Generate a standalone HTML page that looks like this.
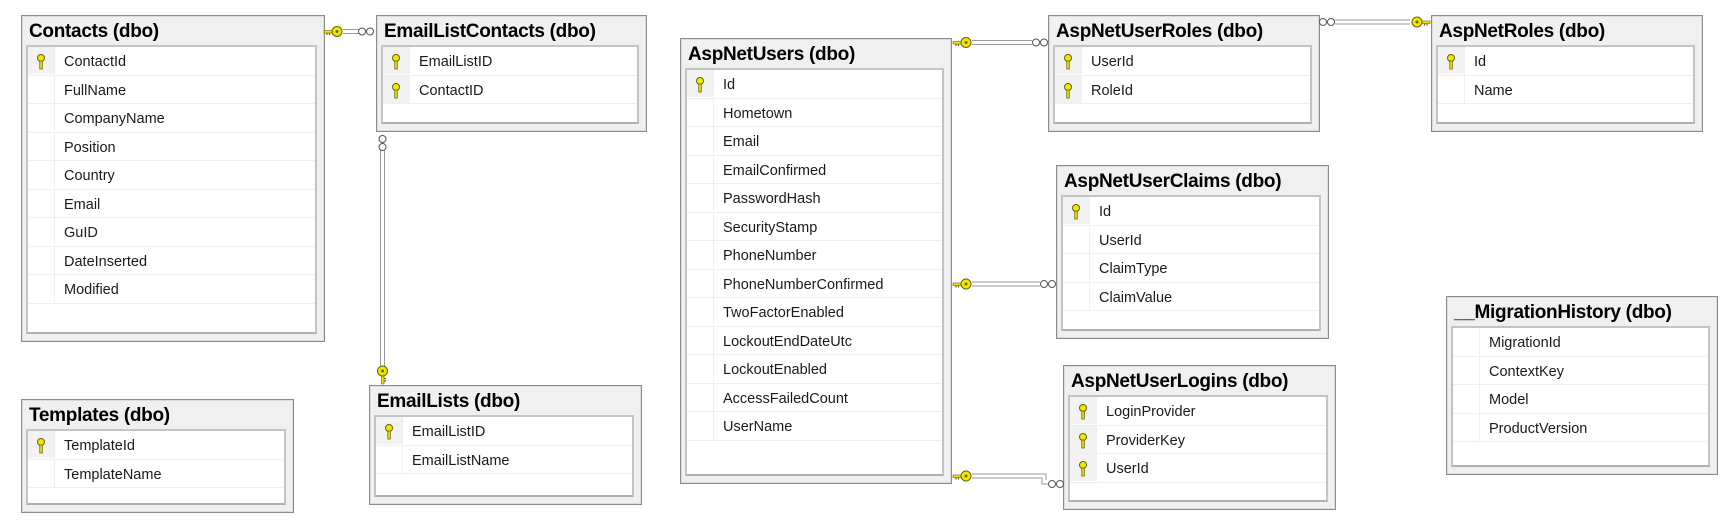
<!DOCTYPE html>
<html><head><meta charset="utf-8"><style>
body{margin:0;width:1735px;height:532px;background:#fff;position:relative;overflow:hidden;font-family:"Liberation Sans",sans-serif;}
.t{position:absolute;background:#f0f0f0;border:1px solid #8c8c8c;box-shadow:inset 0 0 0 1px #dcdcdc;}
.t .h{position:absolute;left:7px;top:3px;font-weight:bold;font-size:19px;line-height:26px;color:#000;letter-spacing:-0.3px;white-space:nowrap}
.t .b{position:absolute;left:4px;right:7px;top:29px;bottom:7px;background:#fff;border:2px solid #c4c4c4;border-bottom-color:#b0b0b0}
.r{height:28.5px;border-bottom:1px solid #efefef;position:relative;box-sizing:border-box}
.r .k{position:absolute;left:0;top:0;width:26px;height:27px;border-right:1px solid #efefef}
.r .k.y{background:#f2f2f2}
.r span{position:absolute;left:36px;top:7px;font-size:14.5px;color:#1a1a1a;white-space:nowrap}
.r .k svg{position:absolute;left:8px;top:7px}
#conn{position:absolute;left:0;top:0;z-index:5}
</style></head><body>

<svg width="0" height="0" style="position:absolute"><defs><g id="rk"><circle cx="5" cy="4" r="3.5" fill="#f3e600" stroke="#6b6200"/><rect x="3.8" y="7" width="2.5" height="8" fill="#f3e600" stroke="#6b6200" stroke-width="0.8"/></g></defs></svg>

<!-- Contacts -->
<div class="t" style="left:21px;top:15px;width:302px;height:325px"><div class="h">Contacts (dbo)</div><div class="b">
<div class="r"><div class="k y"><svg width="10" height="16"><use href="#rk"/></svg></div><span>ContactId</span></div>
<div class="r"><div class="k"></div><span>FullName</span></div>
<div class="r"><div class="k"></div><span>CompanyName</span></div>
<div class="r"><div class="k"></div><span>Position</span></div>
<div class="r"><div class="k"></div><span>Country</span></div>
<div class="r"><div class="k"></div><span>Email</span></div>
<div class="r"><div class="k"></div><span>GuID</span></div>
<div class="r"><div class="k"></div><span>DateInserted</span></div>
<div class="r"><div class="k"></div><span>Modified</span></div>
</div></div>

<!-- EmailListContacts -->
<div class="t" style="left:376px;top:15px;width:269px;height:115px"><div class="h">EmailListContacts (dbo)</div><div class="b">
<div class="r"><div class="k y"><svg width="10" height="16"><use href="#rk"/></svg></div><span>EmailListID</span></div>
<div class="r"><div class="k y"><svg width="10" height="16"><use href="#rk"/></svg></div><span>ContactID</span></div>
</div></div>

<!-- Templates -->
<div class="t" style="left:21px;top:399px;width:271px;height:112px"><div class="h">Templates (dbo)</div><div class="b">
<div class="r"><div class="k y"><svg width="10" height="16"><use href="#rk"/></svg></div><span>TemplateId</span></div>
<div class="r"><div class="k"></div><span>TemplateName</span></div>
</div></div>

<!-- EmailLists -->
<div class="t" style="left:369px;top:385px;width:271px;height:118px"><div class="h">EmailLists (dbo)</div><div class="b">
<div class="r"><div class="k y"><svg width="10" height="16"><use href="#rk"/></svg></div><span>EmailListID</span></div>
<div class="r"><div class="k"></div><span>EmailListName</span></div>
</div></div>

<!-- AspNetUsers -->
<div class="t" style="left:680px;top:38px;width:270px;height:444px"><div class="h">AspNetUsers (dbo)</div><div class="b">
<div class="r"><div class="k y"><svg width="10" height="16"><use href="#rk"/></svg></div><span>Id</span></div>
<div class="r"><div class="k"></div><span>Hometown</span></div>
<div class="r"><div class="k"></div><span>Email</span></div>
<div class="r"><div class="k"></div><span>EmailConfirmed</span></div>
<div class="r"><div class="k"></div><span>PasswordHash</span></div>
<div class="r"><div class="k"></div><span>SecurityStamp</span></div>
<div class="r"><div class="k"></div><span>PhoneNumber</span></div>
<div class="r"><div class="k"></div><span>PhoneNumberConfirmed</span></div>
<div class="r"><div class="k"></div><span>TwoFactorEnabled</span></div>
<div class="r"><div class="k"></div><span>LockoutEndDateUtc</span></div>
<div class="r"><div class="k"></div><span>LockoutEnabled</span></div>
<div class="r"><div class="k"></div><span>AccessFailedCount</span></div>
<div class="r"><div class="k"></div><span>UserName</span></div>
</div></div>

<!-- AspNetUserRoles -->
<div class="t" style="left:1048px;top:15px;width:270px;height:115px"><div class="h">AspNetUserRoles (dbo)</div><div class="b">
<div class="r"><div class="k y"><svg width="10" height="16"><use href="#rk"/></svg></div><span>UserId</span></div>
<div class="r"><div class="k y"><svg width="10" height="16"><use href="#rk"/></svg></div><span>RoleId</span></div>
</div></div>

<!-- AspNetRoles -->
<div class="t" style="left:1431px;top:15px;width:270px;height:115px"><div class="h">AspNetRoles (dbo)</div><div class="b">
<div class="r"><div class="k y"><svg width="10" height="16"><use href="#rk"/></svg></div><span>Id</span></div>
<div class="r"><div class="k"></div><span>Name</span></div>
</div></div>

<!-- AspNetUserClaims -->
<div class="t" style="left:1056px;top:165px;width:271px;height:172px"><div class="h">AspNetUserClaims (dbo)</div><div class="b">
<div class="r"><div class="k y"><svg width="10" height="16"><use href="#rk"/></svg></div><span>Id</span></div>
<div class="r"><div class="k"></div><span>UserId</span></div>
<div class="r"><div class="k"></div><span>ClaimType</span></div>
<div class="r"><div class="k"></div><span>ClaimValue</span></div>
</div></div>

<!-- AspNetUserLogins -->
<div class="t" style="left:1063px;top:365px;width:271px;height:143px"><div class="h">AspNetUserLogins (dbo)</div><div class="b">
<div class="r"><div class="k y"><svg width="10" height="16"><use href="#rk"/></svg></div><span>LoginProvider</span></div>
<div class="r"><div class="k y"><svg width="10" height="16"><use href="#rk"/></svg></div><span>ProviderKey</span></div>
<div class="r"><div class="k y"><svg width="10" height="16"><use href="#rk"/></svg></div><span>UserId</span></div>
</div></div>

<!-- __MigrationHistory -->
<div class="t" style="left:1446px;top:296px;width:270px;height:177px"><div class="h">__MigrationHistory (dbo)</div><div class="b">
<div class="r"><div class="k"></div><span>MigrationId</span></div>
<div class="r"><div class="k"></div><span>ContextKey</span></div>
<div class="r"><div class="k"></div><span>Model</span></div>
<div class="r"><div class="k"></div><span>ProductVersion</span></div>
</div></div>

<svg id="conn" width="1735" height="532" xmlns="http://www.w3.org/2000/svg">
<defs>
<g id="kh"><rect x="-13" y="-1" width="8" height="2.5" fill="#f3e600" stroke="#6b6200" stroke-width="0.6"/><path d="M-10,1.5 v2 M-7.5,1.5 v2" stroke="#6b6200" stroke-width="1.2"/><circle cx="0" cy="0" r="5" fill="#f3e600" stroke="#6b6200" stroke-width="1"/><circle cx="0" cy="0" r="1.5" fill="#6b6200"/></g>
<g id="oo"><circle cx="-4" cy="0" r="3.5" fill="#fff" stroke="#555"/><circle cx="4" cy="0" r="3.5" fill="#fff" stroke="#555"/></g>
</defs>
<g stroke="#999" stroke-width="1" fill="none">
<path d="M343,29.5H360M343,33.5H360"/>
<path d="M380.5,150V366M384.5,150V366"/>
<path d="M972,40.5H1032M972,44.5H1032"/>
<path d="M1335,20H1410M1335,24H1410"/>
<path d="M972,282H1040M972,286H1040"/>
<path d="M972,474H1046V480M972,478H1042V484H1050"/>
</g>
<use href="#kh" transform="translate(337,31.5)"/>
<use href="#oo" transform="translate(366,31.5)"/>
<use href="#oo" transform="translate(382.5,143) rotate(90)"/>
<use href="#kh" transform="translate(382.5,371) rotate(-90)"/>
<use href="#kh" transform="translate(966,42.5)"/>
<use href="#oo" transform="translate(1040,42.5)"/>
<use href="#oo" transform="translate(1327,22)"/>
<use href="#kh" transform="translate(1417,22) scale(-1,1)"/>
<use href="#kh" transform="translate(966,284)"/>
<use href="#oo" transform="translate(1048,284)"/>
<use href="#kh" transform="translate(966,476)"/>
<use href="#oo" transform="translate(1056,484)"/>
</svg>

</body></html>
